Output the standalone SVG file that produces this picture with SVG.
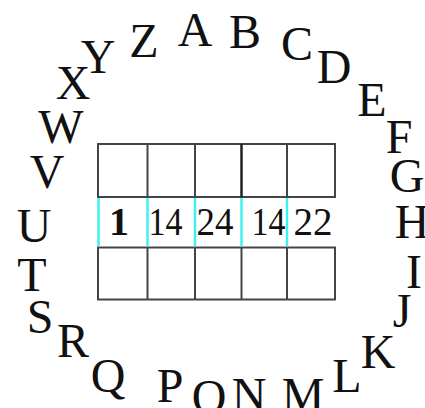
<svg xmlns="http://www.w3.org/2000/svg" width="425" height="408" viewBox="0 0 425 408">
<style>
.l{font-family:"Liberation Serif","Times New Roman",serif;font-size:48px;fill:#111;text-anchor:middle}
.n{font-family:"Liberation Serif","Times New Roman",serif;font-size:40px;fill:#111;text-anchor:middle}
.g{fill:none;stroke:#444;stroke-width:2}
.c{stroke:#40f0f0;stroke-width:2.5}
</style>
<rect width="425" height="408" fill="#fff"/>
<g id="letters">
<text class="l" x="195" y="46">A</text>
<text class="l" x="245" y="48">B</text>
<text class="l" x="297" y="60">C</text>
<text class="l" x="334" y="83">D</text>
<text class="l" x="372" y="116">E</text>
<text class="l" x="399" y="153">F</text>
<text class="l" x="407" y="192">G</text>
<text class="l" x="412" y="238">H</text>
<text class="l" x="414" y="288">I</text>
<text class="l" x="402" y="327">J</text>
<text class="l" x="378" y="368">K</text>
<text class="l" x="347" y="392">L</text>
<text class="l" x="303" y="411">M</text>
<text class="l" x="249" y="411">N</text>
<text class="l" x="209" y="413">O</text>
<text class="l" x="170" y="402">P</text>
<text class="l" x="108" y="392">Q</text>
<text class="l" x="73" y="357">R</text>
<text class="l" x="40" y="333">S</text>
<text class="l" x="32" y="291">T</text>
<text class="l" x="34" y="242">U</text>
<text class="l" x="47" y="188">V</text>
<text class="l" x="61" y="143">W</text>
<text class="l" x="73" y="99">X</text>
<text class="l" x="98" y="73">Y</text>
<text class="l" x="144" y="57">Z</text>
</g>
<g id="grid">
<rect class="g" x="98" y="144" width="237" height="53"/>
<line class="g" x1="147.5" y1="144" x2="147.5" y2="197"/>
<line class="g" x1="195" y1="144" x2="195" y2="197"/>
<line class="g" x1="241.5" y1="144" x2="241.5" y2="197" style="stroke:#222;stroke-width:2.5"/>
<line class="g" x1="287" y1="144" x2="287" y2="197"/>
<rect class="g" x="98" y="247.5" width="237" height="52"/>
<line class="g" x1="147.5" y1="247.5" x2="147.5" y2="299.5"/>
<line class="g" x1="195" y1="247.5" x2="195" y2="299.5"/>
<line class="g" x1="241.5" y1="247.5" x2="241.5" y2="299.5"/>
<line class="g" x1="287" y1="247.5" x2="287" y2="299.5"/>
<line class="c" x1="98.5" y1="198" x2="98.5" y2="246.5"/>
<line class="c" x1="147.5" y1="198" x2="147.5" y2="246.5"/>
<line class="c" x1="195" y1="198" x2="195" y2="246.5"/>
<line class="c" x1="241.5" y1="198" x2="241.5" y2="246.5"/>
<line class="c" x1="287" y1="198" x2="287" y2="246.5"/>
</g>
<g id="numbers">
<text class="n" x="119" y="235" font-weight="bold">1</text>
<text class="n" x="165.5" y="235" textLength="34" lengthAdjust="spacingAndGlyphs">14</text>
<text class="n" x="215" y="235" textLength="37" lengthAdjust="spacingAndGlyphs">24</text>
<text class="n" x="268.5" y="235" textLength="34" lengthAdjust="spacingAndGlyphs">14</text>
<text class="n" x="313" y="235" textLength="39" lengthAdjust="spacingAndGlyphs">22</text>
</g>
</svg>
